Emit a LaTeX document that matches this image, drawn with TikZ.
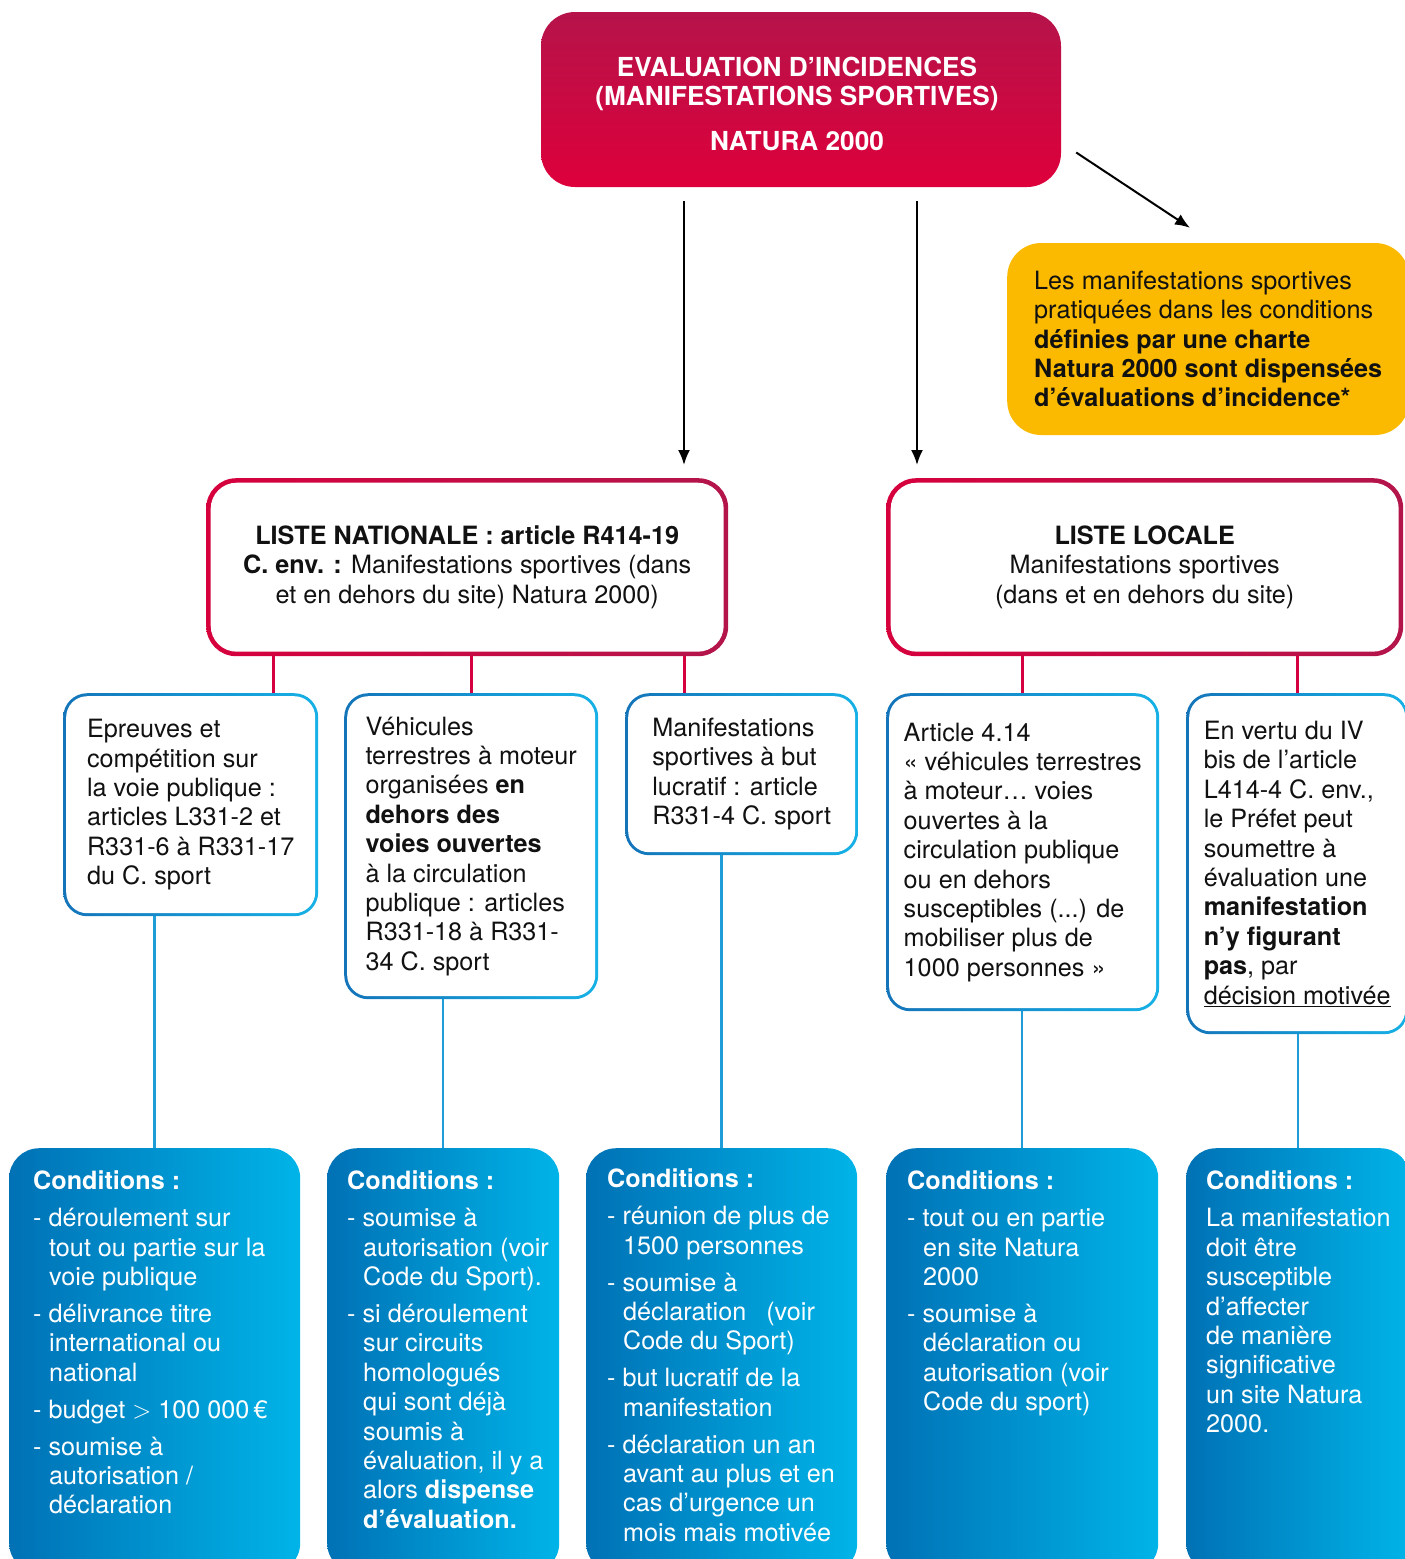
\documentclass[tikz,border=0pt]{standalone}
\usepackage{fontspec}
\setmainfont{TeX Gyre Heros}
\usepackage{tikz}
\usetikzlibrary{positioning,arrows.meta}

\definecolor{titletop}{HTML}{B5134A}
\definecolor{titlebot}{HTML}{DE003B}
\definecolor{listred}{HTML}{D6003D}
\definecolor{listdark}{HTML}{B3154B}
\definecolor{charteyellow}{HTML}{FBBA00}
\definecolor{casedark}{HTML}{1474B9}
\definecolor{caselight}{HTML}{16B1E6}
\definecolor{conddark}{HTML}{0071B5}
\definecolor{condlight}{HTML}{00B4E8}
\definecolor{stubred}{HTML}{D4003F}
\definecolor{stubblue}{HTML}{1E9DD8}
\definecolor{ink}{HTML}{111111}

\newcommand{\dashind}{\hspace*{16pt}}

\begin{document}
\begin{tikzpicture}[x=1pt, y=-1pt,
    every node/.style={font=\fontsize{25.2}{29.4}\selectfont},
    titlebox/.style={rounded corners=34pt, top color=titletop, bottom color=titlebot, text=white,
        font=\bfseries\fontsize{26.2}{29}\selectfont, align=center, minimum width=520pt, minimum height=175pt},
    chartebox/.style={rounded corners=34pt, fill=charteyellow, text=ink, align=left,
        minimum height=192pt, inner xsep=27pt},
    listbox/.style={rounded corners=30pt, left color=listred, right color=listdark, text=ink,
        align=center, minimum height=178pt,
        path picture={\fill[white, rounded corners=26pt]
            ([shift={(4.5pt,4.5pt)}]path picture bounding box.south west) rectangle
            ([shift={(-4.5pt,-4.5pt)}]path picture bounding box.north east);}},
    casebox/.style={rounded corners=24pt, left color=casedark, right color=caselight, text=ink,
        align=left,
        path picture={\fill[white, rounded corners=21pt]
            ([shift={(3pt,3pt)}]path picture bounding box.south west) rectangle
            ([shift={(-3pt,-3pt)}]path picture bounding box.north east);}},
    condbox/.style={rounded corners=30pt, left color=conddark, right color=condlight, minimum height=425pt},
    condtext/.style={text=white, align=left, inner sep=0pt},
    arr/.style={-{Latex[length=15pt,width=12pt]}, line width=2pt, black},
    redstub/.style={stubred, line width=3pt},
    bluestub/.style={stubblue, line width=2.5pt}
]
\useasboundingbox (0,0) rectangle (1405,1559);
\clip (0,0) rectangle (1405,1559);

% top of the tree
\node[titlebox] (title) at (801,99.5) {};
\node[text=white, font=\bfseries\fontsize{26.2}{29}\selectfont, align=center] (titletxt) at (797,104) {EVALUATION D’INCIDENCES\\(MANIFESTATIONS SPORTIVES)\\[16pt]NATURA 2000};
\node[chartebox, anchor=west] (charte) at (1007,339) {Les manifestations sportives\\pratiquées dans les conditions\\\textbf{définies par une charte}\\\textbf{Natura 2000 sont dispensées}\\\textbf{d’évaluations d’incidence*}};

% the two lists
\node[listbox, anchor=north west, minimum width=522pt] (natl) at (206,478) {\textbf{LISTE NATIONALE : article R414-19}\\\textbf{C. env. :} Manifestations sportives (dans\\et en dehors du site) Natura 2000)};
\node[listbox, anchor=north west, minimum width=517pt] (locl) at (886,478) {\textbf{LISTE LOCALE}\\Manifestations sportives\\(dans et en dehors du site)};

% cases
\node[casebox, anchor=north west, minimum width=255pt, minimum height=223pt] (case1) at (63,693) {Epreuves et\\compétition sur\\la voie publique :\\articles L331-2 et\\R331-6 à R331-17\\du C. sport};
\node[casebox, anchor=north west, minimum width=254pt, minimum height=306pt] (case2) at (344,693) {Véhicules\\terrestres à moteur\\organisées \textbf{en}\\\textbf{dehors des}\\\textbf{voies ouvertes}\\à la circulation\\publique : articles\\R331-18 à R331-\\34 C. sport};
\node[casebox, anchor=north west, minimum width=233pt, minimum height=162pt] (case3) at (625,693) {Manifestations\\sportives à but\\lucratif : article\\R331-4 C. sport};
\node[casebox, anchor=north west, minimum width=273pt, minimum height=318pt] (case4) at (886,693) {Article 4.14\\« véhicules terrestres\\à moteur… voies\\ouvertes à la\\circulation publique\\ou en dehors\\susceptibles (...) de\\mobiliser plus de\\1000 personnes »};
\node[casebox, anchor=north west, minimum width=222pt, minimum height=341pt] (case5) at (1186,693) {En vertu du IV\\bis de l’article\\L414-4 C. env.,\\le Préfet peut\\soumettre à\\évaluation une\\\textbf{manifestation}\\\textbf{n’y figurant}\\\textbf{pas}, par\\\underline{décision motivée}};

% conditions
\node[condbox, anchor=north west, minimum width=291pt] (cond1) at (9,1148) {};
\node[condbox, anchor=north west, minimum width=232pt] (cond2) at (327,1148) {};
\node[condbox, anchor=north west, minimum width=271pt] (cond3) at (586,1148) {};
\node[condbox, anchor=north west, minimum width=272pt] (cond4) at (886,1148) {};
\node[condbox, anchor=north west, minimum width=224pt] (cond5) at (1186,1148) {};

\node[condtext, below right=23pt and 24pt of cond1.north west] (condtxt1) {\textbf{Conditions :}\\[7.5pt]- déroulement sur\\\dashind tout ou partie sur la\\\dashind voie publique\\[7.5pt]- délivrance titre\\\dashind international ou\\\dashind national\\[7.5pt]- budget $>$ 100 000\,€\\[7.5pt]- soumise à\\\dashind autorisation /\\\dashind déclaration};
\node[condtext, below right=23pt and 20pt of cond2.north west] (condtxt2) {\textbf{Conditions :}\\[7.5pt]- soumise à\\\dashind autorisation (voir\\\dashind Code du Sport).\\[7.5pt]- si déroulement\\\dashind sur circuits\\\dashind homologués\\\dashind qui sont déjà\\\dashind soumis à\\\dashind évaluation, il y a\\\dashind alors \textbf{dispense}\\\dashind \textbf{d’évaluation.}};
\node[condtext, below right=21pt and 21pt of cond3.north west] (condtxt3) {\textbf{Conditions :}\\[7.5pt]- réunion de plus de\\\dashind 1500 personnes\\[7.5pt]- soumise à\\\dashind déclaration\hspace{20pt}(voir\\\dashind Code du Sport)\\[7.5pt]- but lucratif de la\\\dashind manifestation\\[7.5pt]- déclaration un an\\\dashind avant au plus et en\\\dashind cas d’urgence un\\\dashind mois mais motivée};
\node[condtext, below right=23pt and 21pt of cond4.north west] (condtxt4) {\textbf{Conditions :}\\[7.5pt]- tout ou en partie\\\dashind en site Natura\\\dashind 2000\\[7.5pt]- soumise à\\\dashind déclaration ou\\\dashind autorisation (voir\\\dashind Code du sport)};
\node[condtext, below right=23pt and 20pt of cond5.north west] (condtxt5) {\textbf{Conditions :}\\[7.5pt]La manifestation\\doit être\\susceptible\\d’affecter\\de manière\\significative\\un site Natura\\2000.};

% arrows from the title
\draw[arr, shorten <=14pt, shorten >=13pt] ([xshift=-117pt]title.south) -- ([xshift=-117pt]title.south |- natl.north);
\draw[arr, shorten <=14pt, shorten >=13pt] ([xshift=116pt]title.south) -- ([xshift=116pt]title.south |- locl.north);
\draw[arr] ([xshift=15pt,yshift=-53pt]title.east) -- ([xshift=183pt,yshift=15pt]charte.north west);

% stubs
\draw[redstub] ([xshift=83pt]case1.north) -- ([xshift=83pt]case1.north |- natl.south);
\draw[redstub] (case2.north) -- (case2.north |- natl.south);
\draw[redstub] ([xshift=-57.5pt]case3.north) -- ([xshift=-57.5pt]case3.north |- natl.south);
\draw[redstub] (case4.north) -- (case4.north |- locl.south);
\draw[redstub] (case5.north) -- (case5.north |- locl.south);

\draw[bluestub] (cond1.north) -- (cond1.north |- case1.south);
\draw[bluestub] (cond2.north) -- (cond2.north |- case2.south);
\draw[bluestub] (cond3.north) -- (cond3.north |- case3.south);
\draw[bluestub] (cond4.north) -- (cond4.north |- case4.south);
\draw[bluestub] (cond5.north) -- (cond5.north |- case5.south);
\end{tikzpicture}
\end{document}
